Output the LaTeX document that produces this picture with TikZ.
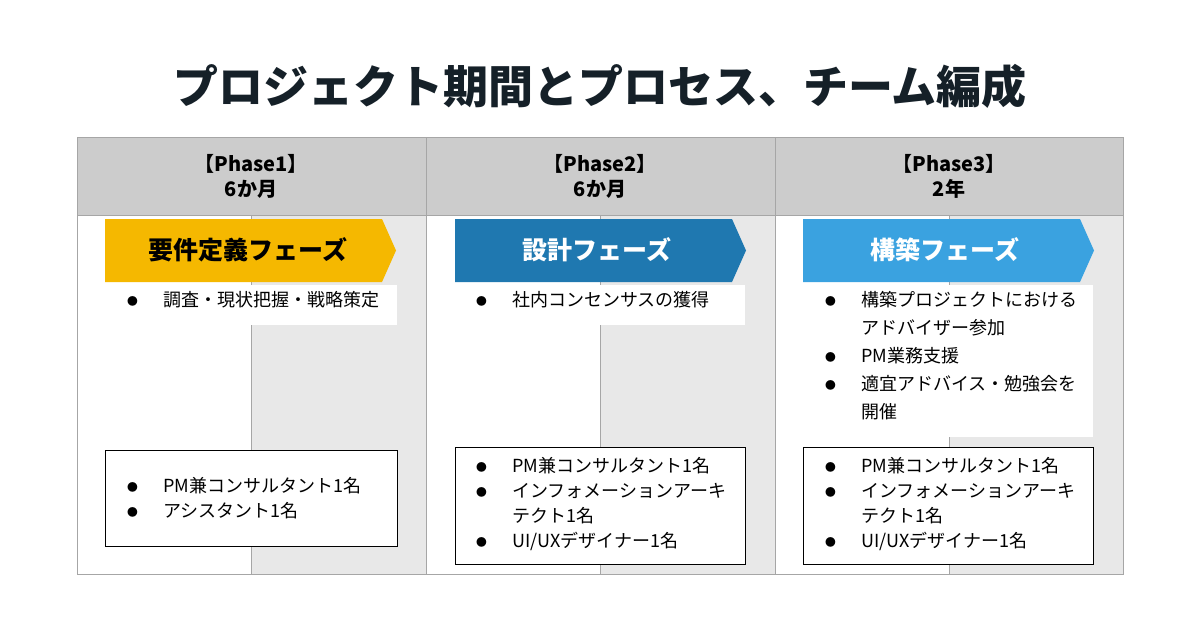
\documentclass[tikz,border=0pt]{standalone}
\usepackage{fontspec}
\setmainfont{Noto Sans CJK JP}
\usetikzlibrary{positioning}
\definecolor{hdrgray}{HTML}{CCCCCC}
\definecolor{bodygray}{HTML}{E8E8E8}
\definecolor{linegray}{HTML}{A6A6A6}
\definecolor{phaseA}{HTML}{F5B800}
\definecolor{phaseB}{HTML}{1F78B0}
\definecolor{phaseC}{HTML}{3AA2E0}
\definecolor{titlecol}{HTML}{152028}
\newcommand{\bul}[1]{\makebox[36pt][l]{\raisebox{1pt}{\scalebox{0.6}{●}}}#1}
\newcommand{\cont}[1]{\hspace*{36pt}#1}
\tikzset{
  header/.style={font=\fontsize{20}{25}\bfseries\selectfont, align=center},
  banner/.style={text=white, font=\fontsize{25}{30}\bfseries\selectfont},
  bullets/.style={anchor=north west, align=left, inner sep=0pt},
  team/.style={draw=black, line width=0.8pt, fill=white}
}
\begin{document}
\begin{tikzpicture}[x=1pt,y=-1pt]
\useasboundingbox (0,0) rectangle (1200,630);
%Title
\node[font=\fontsize{45}{52}\bfseries\selectfont, text=titlecol] (title) at (600,86) {プロジェクト期間とプロセス、チーム編成};

%Columns
\foreach \c/\x in {1/77, 2/426, 3/775}{
  \fill[hdrgray] (\x,137) rectangle ++(349,78);
  \fill[white] (\x,215) rectangle ++(174,359);
  \fill[bodygray] (\x+174,215) rectangle ++(175,359);
  \draw[linegray, line width=0.6pt] (\x+174,215) -- (\x+174,574);
}
\draw[linegray, line width=0.8pt] (77,137) rectangle (1123,574);
\draw[linegray, line width=0.8pt] (77,215) -- (1123,215);
\draw[linegray, line width=0.8pt] (426,137) -- (426,574);
\draw[linegray, line width=0.8pt] (775,137) -- (775,574);

\node[header] (h1) at (251,176) {【Phase1】\\6か月};
\node[header] (h2) at (600,176) {【Phase2】\\6か月};
\node[header] (h3) at (949,176) {【Phase3】\\2年};

%Banners
\foreach \x/\col/\lab in {105/phaseA/要件定義フェーズ, 455/phaseB/設計フェーズ, 803/phaseC/構築フェーズ}{
  \fill[\col] (\x,219) -- ++(277,0) -- ++(14,31.5) -- ++(-14,31.5) -- ++(-277,0) -- cycle;
}
\node[banner, text=black] (b1) at (248,250) {要件定義フェーズ};
\node[banner] (b2) at (597,250) {設計フェーズ};
\node[banner] (b3) at (945,250) {構築フェーズ};

%Tasks
\fill[white] (105,285) rectangle (397,325);
\fill[white] (455,285) rectangle (745,325);
\fill[white] (803,285) rectangle (1093,437);
\node[bullets, font=\fontsize{18}{28}\selectfont] (t1) at (127,291) {\bul{調査・現状把握・戦略策定}};
\node[bullets, font=\fontsize{18}{28}\selectfont] (t2) at (476,291) {\bul{社内コンセンサスの獲得}};
\node[bullets, font=\fontsize{18}{28}\selectfont] (t3) at (825,291) {\bul{構築プロジェクトにおける}\\\cont{アドバイザー参加}\\\bul{PM業務支援}\\\bul{適宜アドバイス・勉強会を}\\\cont{開催}};

%Teams
\draw[team] (105,450) rectangle (397,546);
\draw[team] (455,447) rectangle (745,564);
\draw[team] (803,447) rectangle (1093,564);
\node[bullets, font=\fontsize{18}{25}\selectfont] (m1) at (127,477) {\bul{PM兼コンサルタント1名}\\\bul{アシスタント1名}};
\node[bullets, font=\fontsize{18}{25}\selectfont] (m2) at (476,457) {\bul{PM兼コンサルタント1名}\\\bul{インフォメーションアーキ}\\\cont{テクト1名}\\\bul{UI/UXデザイナー1名}};
\node[bullets, font=\fontsize{18}{25}\selectfont] (m3) at (825,457) {\bul{PM兼コンサルタント1名}\\\bul{インフォメーションアーキ}\\\cont{テクト1名}\\\bul{UI/UXデザイナー1名}};
\end{tikzpicture}
\end{document}
